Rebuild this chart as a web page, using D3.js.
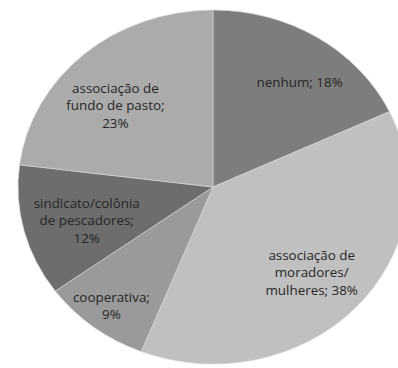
<!DOCTYPE html>
<html>
<head>
<meta charset="utf-8">
<script src="https://cdn.jsdelivr.net/npm/d3@7"></script>
<style>
  html, body { margin: 0; padding: 0; background: #fff; }
  svg { display: block; }
  text { font-family: "Open Sans", "Noto Sans", sans-serif; font-size: 13.4px; fill: #262626; }
</style>
</head>
<body>
<div id="chart"></div>
<script>
// Categories (| marks a line break in the label) and their shares in percent
const categories = [
  "nenhum",
  "associação de|moradores/|mulheres",
  "cooperativa",
  "sindicato/colônia|de pescadores",
  "associação de|fundo de pasto"
];
const values = [18, 38, 9, 12, 23];
const pctOnNewLine = [false, false, true, true, true];
const colors = ["#7d7d7d", "#c0c0c0", "#9a9a9a", "#6d6d6d", "#ababab"];

const width = 398, height = 368;
const cx = 213, cy = 187;      // pie centre
const ry = 177, rx = 195;      // vertical / horizontal radius (pie is drawn slightly wide)

// label placement: fraction of the radius and small angle nudge (degrees)
const labelRadius = [0.74, 0.70, 0.85, 0.675, 0.68];
const labelShift  = [4.5, 0.5, 0, -2, -6];
const lineHeight = 17.5;

const svg = d3.select("#chart").append("svg")
  .attr("width", width).attr("height", height);

const pie = d3.pie().sort(null).value(d => d)(values);
const arc = d3.arc().innerRadius(0).outerRadius(ry);

const g = svg.append("g")
  .attr("transform", `translate(${cx},${cy}) scale(${rx / ry},1)`);

g.selectAll("path").data(pie).join("path")
  .attr("d", arc)
  .attr("fill", (d, i) => colors[i])
  .attr("stroke", "#d9d9d9")
  .attr("stroke-width", 0.6);

const labels = svg.append("g");
pie.forEach((d, i) => {
  const a = (d.startAngle + d.endAngle) / 2 + labelShift[i] * Math.PI / 180;
  const x = cx + rx * labelRadius[i] * Math.sin(a);
  const y = cy - ry * labelRadius[i] * Math.cos(a);
  const lines = categories[i].split("|");
  const pct = values[i] + "%";
  if (pctOnNewLine[i]) { lines[lines.length - 1] += ";"; lines.push(pct); }
  else lines[lines.length - 1] += "; " + pct;
  const t = labels.append("text").attr("text-anchor", "middle");
  const y0 = y - (lines.length - 1) * lineHeight / 2 + 4.5;
  lines.forEach((s, k) => {
    t.append("tspan").attr("x", x).attr("y", y0 + k * lineHeight).text(s);
  });
});
</script>
</body>
</html>
